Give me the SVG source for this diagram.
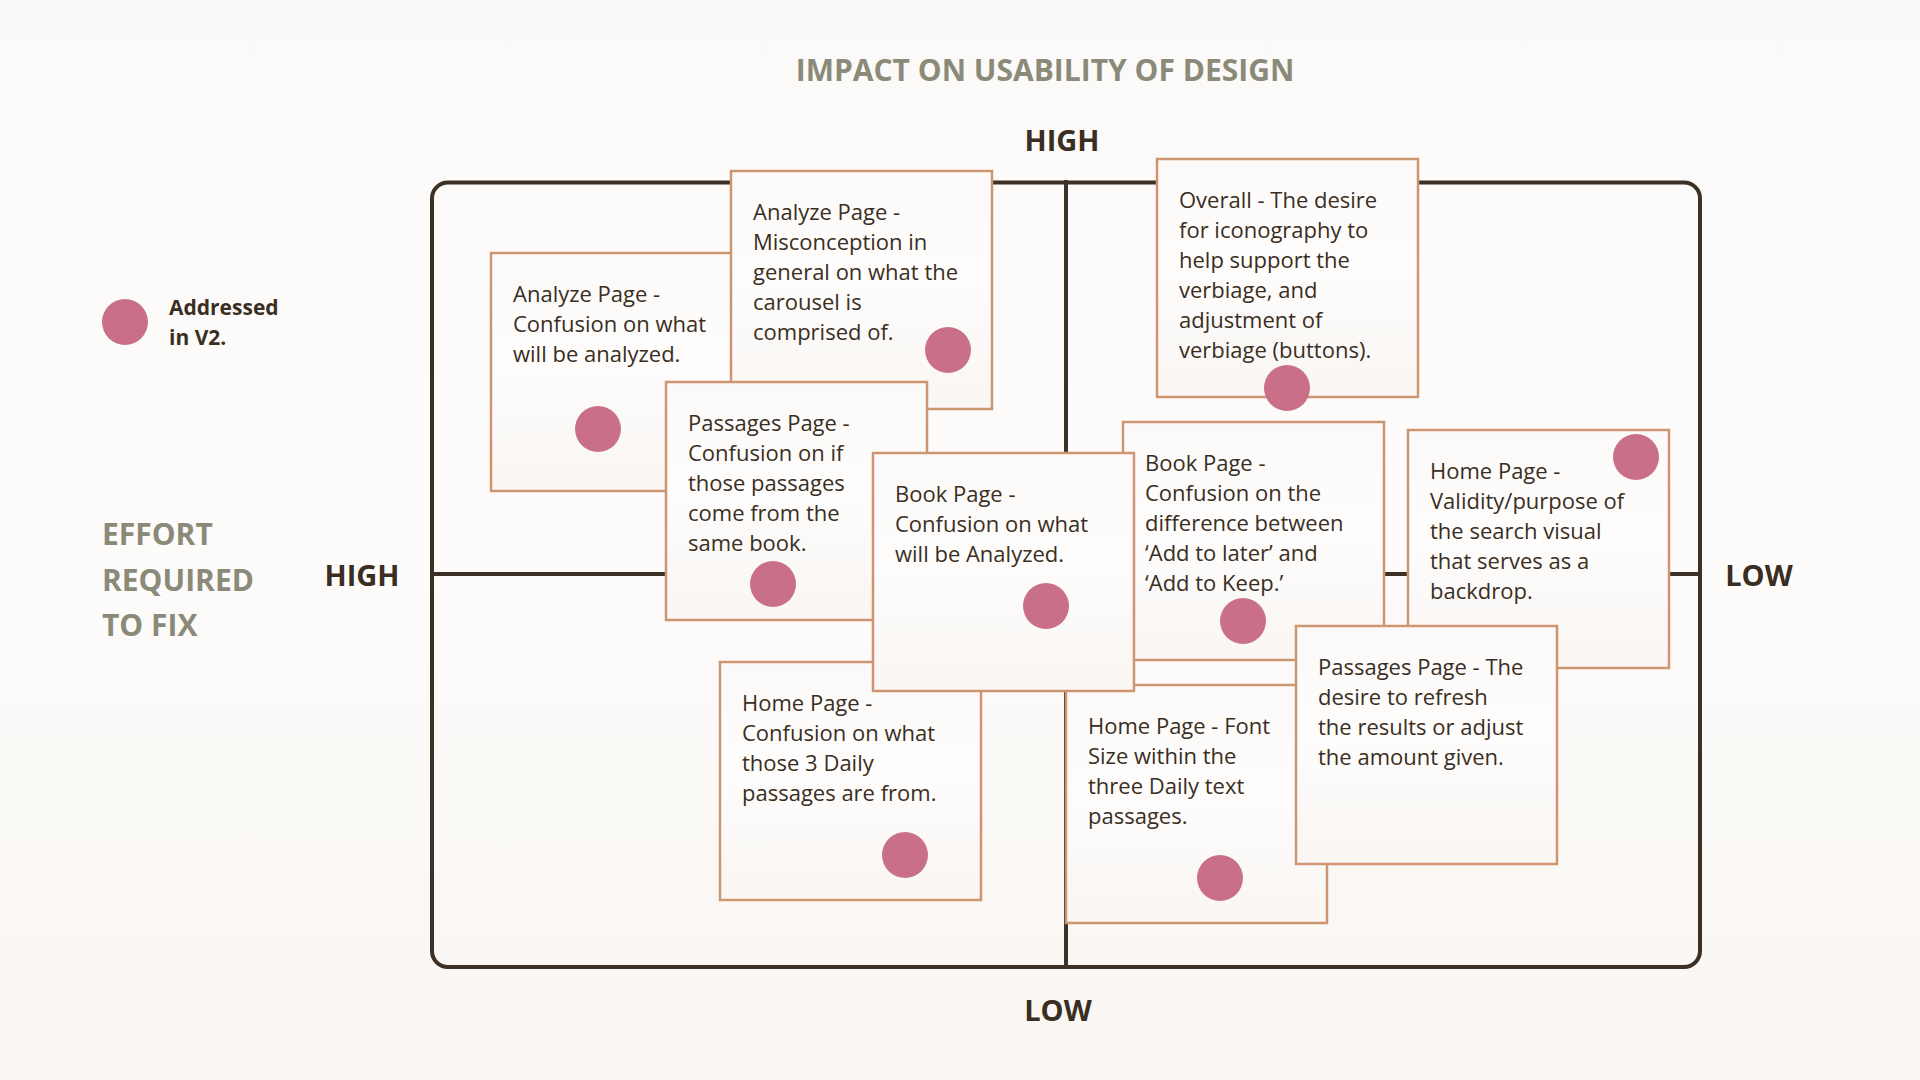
<svg xmlns="http://www.w3.org/2000/svg" width="1920" height="1080" viewBox="0 0 1920 1080">
<defs>
<linearGradient id="bg" x1="0" y1="0" x2="0" y2="1">
<stop offset="0" stop-color="#FCFAF8"/>
<stop offset="0.5" stop-color="#FDFCFB"/>
<stop offset="1" stop-color="#F9F6F2"/>
</linearGradient>
<linearGradient id="note" x1="0" y1="0" x2="0" y2="1">
<stop offset="0" stop-color="#FCFAF8"/>
<stop offset="0.45" stop-color="#FEFDFC"/>
<stop offset="1" stop-color="#F9F6F3"/>
</linearGradient>
<style>
.note rect{fill:url(#note);stroke:#CE9670;stroke-width:2.5}
.note text{font-family:"Open Sans","Liberation Sans",sans-serif;font-size:22px;fill:#3A2E22}
.dot{fill:#C97088}
.axis{stroke:#3D3024;stroke-width:4;fill:none}
.lbl{font-family:"Open Sans","Liberation Sans",sans-serif;font-weight:bold;font-size:29px;fill:#3A2E22}
.ttl{font-family:"Open Sans","Liberation Sans",sans-serif;font-weight:bold;font-size:30px;fill:#8B8A78}
.leg{font-family:"Open Sans","Liberation Sans",sans-serif;font-weight:bold;font-size:21px;fill:#3A2E22}
</style>
</defs>
<rect width="1920" height="1080" fill="url(#bg)"/>

<text class="ttl" x="1045" y="81" text-anchor="middle">IMPACT ON USABILITY OF DESIGN</text>
<text class="ttl" x="102" y="545">EFFORT</text>
<text class="ttl" x="102" y="591">REQUIRED</text>
<text class="ttl" x="102" y="636">TO FIX</text>

<g id="legend">
<circle class="dot" cx="125" cy="322" r="23"/>
<text class="leg" x="169" y="315">Addressed</text>
<text class="leg" x="169" y="345">in V2.</text>
</g>

<g id="axes">
<rect class="axis" x="432" y="182.5" width="1268" height="784.5" rx="16"/>
<line class="axis" x1="1066" y1="180" x2="1066" y2="969"/>
<line class="axis" x1="432" y1="574" x2="1700" y2="574"/>
</g>

<text class="lbl" x="1062" y="151" text-anchor="middle">HIGH</text>
<text class="lbl" x="1058" y="1021" text-anchor="middle">LOW</text>
<text class="lbl" x="362" y="586" text-anchor="middle">HIGH</text>
<text class="lbl" x="1759" y="586" text-anchor="middle">LOW</text>

<g id="note1" class="note" transform="translate(491,253)">
<rect width="261" height="238"/>
<text x="22" y="49"><tspan x="22">Analyze Page -</tspan><tspan x="22" dy="30">Confusion on what</tspan><tspan x="22" dy="30">will be analyzed.</tspan></text>
<circle class="dot" cx="107" cy="176" r="23"/>
</g>

<g id="note2" class="note" transform="translate(731,171)">
<rect width="261" height="238"/>
<text x="22" y="49"><tspan x="22">Analyze Page -</tspan><tspan x="22" dy="30">Misconception in</tspan><tspan x="22" dy="30">general on what the</tspan><tspan x="22" dy="30">carousel is</tspan><tspan x="22" dy="30">comprised of.</tspan></text>
<circle class="dot" cx="217" cy="179" r="23"/>
</g>

<g id="note3" class="note" transform="translate(666,382)">
<rect width="261" height="238"/>
<text x="22" y="49"><tspan x="22">Passages Page -</tspan><tspan x="22" dy="30">Confusion on if</tspan><tspan x="22" dy="30">those passages</tspan><tspan x="22" dy="30">come from the</tspan><tspan x="22" dy="30">same book.</tspan></text>
<circle class="dot" cx="107" cy="202" r="23"/>
</g>

<g id="note8" class="note" transform="translate(720,662)">
<rect width="261" height="238"/>
<text x="22" y="49"><tspan x="22">Home Page -</tspan><tspan x="22" dy="30">Confusion on what</tspan><tspan x="22" dy="30">those 3 Daily</tspan><tspan x="22" dy="30">passages are from.</tspan></text>
<circle class="dot" cx="185" cy="193" r="23"/>
</g>

<g id="note6" class="note" transform="translate(1123,422)">
<rect width="261" height="238"/>
<text x="22" y="49"><tspan x="22">Book Page -</tspan><tspan x="22" dy="30">Confusion on the</tspan><tspan x="22" dy="30">difference between</tspan><tspan x="22" dy="30">‘Add to later’ and</tspan><tspan x="22" dy="30">‘Add to Keep.’</tspan></text>
<circle class="dot" cx="120" cy="199" r="23"/>
</g>

<g id="note9" class="note" transform="translate(1066,685)">
<rect width="261" height="238"/>
<text x="22" y="49"><tspan x="22">Home Page - Font</tspan><tspan x="22" dy="30">Size within the</tspan><tspan x="22" dy="30">three Daily text</tspan><tspan x="22" dy="30">passages.</tspan></text>
<circle class="dot" cx="154" cy="193" r="23"/>
</g>

<g id="note4" class="note" transform="translate(873,453)">
<rect width="261" height="238"/>
<text x="22" y="49"><tspan x="22">Book Page -</tspan><tspan x="22" dy="30">Confusion on what</tspan><tspan x="22" dy="30">will be Analyzed.</tspan></text>
<circle class="dot" cx="173" cy="153" r="23"/>
</g>

<g id="note5" class="note" transform="translate(1157,159)">
<rect width="261" height="238"/>
<text x="22" y="49"><tspan x="22">Overall - The desire</tspan><tspan x="22" dy="30">for iconography to</tspan><tspan x="22" dy="30">help support the</tspan><tspan x="22" dy="30">verbiage, and</tspan><tspan x="22" dy="30">adjustment of</tspan><tspan x="22" dy="30">verbiage (buttons).</tspan></text>
<circle class="dot" cx="130" cy="229" r="23"/>
</g>

<g id="note7" class="note" transform="translate(1408,430)">
<rect width="261" height="238"/>
<text x="22" y="49"><tspan x="22">Home Page -</tspan><tspan x="22" dy="30">Validity/purpose of</tspan><tspan x="22" dy="30">the search visual</tspan><tspan x="22" dy="30">that serves as a</tspan><tspan x="22" dy="30">backdrop.</tspan></text>
<circle class="dot" cx="228" cy="27" r="23"/>
</g>

<g id="note10" class="note" transform="translate(1296,626)">
<rect width="261" height="238"/>
<text x="22" y="49"><tspan x="22">Passages Page - The</tspan><tspan x="22" dy="30">desire to refresh</tspan><tspan x="22" dy="30">the results or adjust</tspan><tspan x="22" dy="30">the amount given.</tspan></text>
</g>
</svg>
